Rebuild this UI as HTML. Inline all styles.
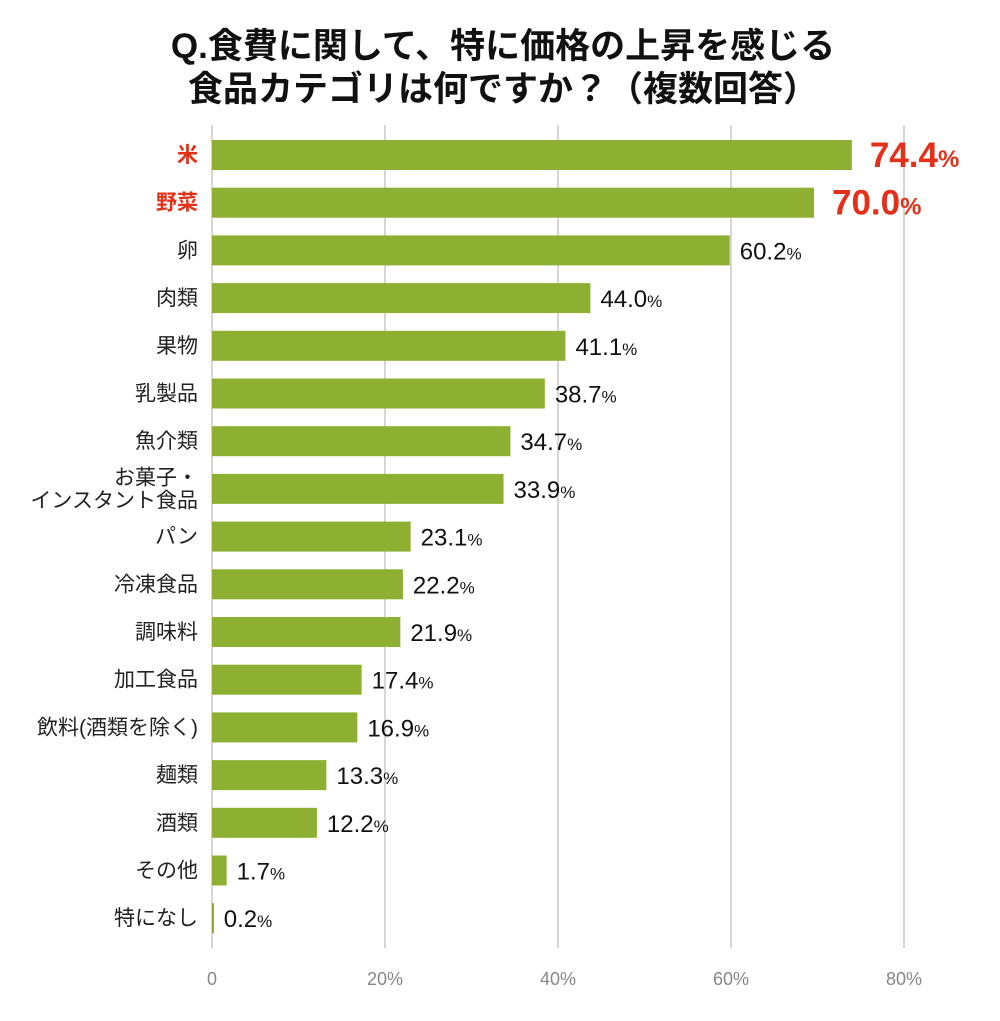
<!DOCTYPE html>
<html><head><meta charset="utf-8">
<style>
body{margin:0;background:#fff;width:1000px;height:1016px;overflow:hidden;font-family:"Liberation Sans","Noto Sans CJK JP",sans-serif;}
svg text{font-family:"Liberation Sans","Noto Sans CJK JP",sans-serif;}
</style></head>
<body>
<svg id="chart" width="1000" height="1016" xmlns="http://www.w3.org/2000/svg">
<text x="503" y="58" text-anchor="middle" font-size="35" font-weight="bold" fill="#111">Q.食費に関して、特に価格の上昇を感じる</text>
<text x="503" y="101" text-anchor="middle" font-size="35" font-weight="bold" fill="#111">食品カテゴリは何ですか？（複数回答）</text>
<g id="grid"></g><g id="bars"></g><g id="labels"></g>
</svg>
<script>
const categories=["米","野菜","卵","肉類","果物","乳製品","魚介類","お菓子・\nインスタント食品","パン","冷凍食品","調味料","加工食品","飲料(酒類を除く)","麺類","酒類","その他","特になし"];
const values=[74.4,70.0,60.2,44.0,41.1,38.7,34.7,33.9,23.1,22.2,21.9,17.4,16.9,13.3,12.2,1.7,0.2];
const ticks=[0,20,40,60,80];
const NS="http://www.w3.org/2000/svg";
const x=v=>212+v*(900-212)/80;
const y=i=>155+i*47.7;
function mk(t,a,p){const e=document.createElementNS(NS,t);for(const k in a)e.setAttribute(k,a[k]);p.appendChild(e);return e;}
const grid=document.getElementById('grid'),bars=document.getElementById('bars'),labels=document.getElementById('labels');
ticks.forEach(t=>{
 const gx=212+t*(904-212)/80;
 const l=mk('line',{x1:gx,x2:gx,y1:125,y2:948,stroke:'#bbb','stroke-width':1.2},grid);
 
 
 const tx=mk('text',{x:gx,y:985,'text-anchor':'middle','font-size':18,fill:'#888'},grid);
 tx.textContent=t===0?'0':t+'%';
 
 
});
categories.forEach((c,i)=>{
 const r=mk('rect',{x:212,y:y(i)-15,width:Math.max(x(values[i])-212,2),height:30,fill:'#8db033'},bars);
 
 
 const red=i<2;
 const lines=c.split('\n');
 lines.forEach((s,j)=>{
  const t=mk('text',{x:198,y:y(i)+7+(lines.length>1?(j-0.5)*23:0),'text-anchor':'end','font-size':21,fill:red?'#e53019':'#222','font-weight':red?'bold':'normal'},labels);
  t.textContent=s;
  
  
 });
 const v=mk('text',{x:x(values[i])+(red?18:10),y:y(i)+(red?12:9),'font-size':red?35:24,fill:red?'#e53019':'#111','font-weight':red?'bold':'normal'},labels);
 
 
 const n=mk('tspan',{},v);n.textContent=values[i].toFixed(1);
 const p=mk('tspan',{'font-size':red?24:17},v);p.textContent='%';
});
</script>
</body></html>
